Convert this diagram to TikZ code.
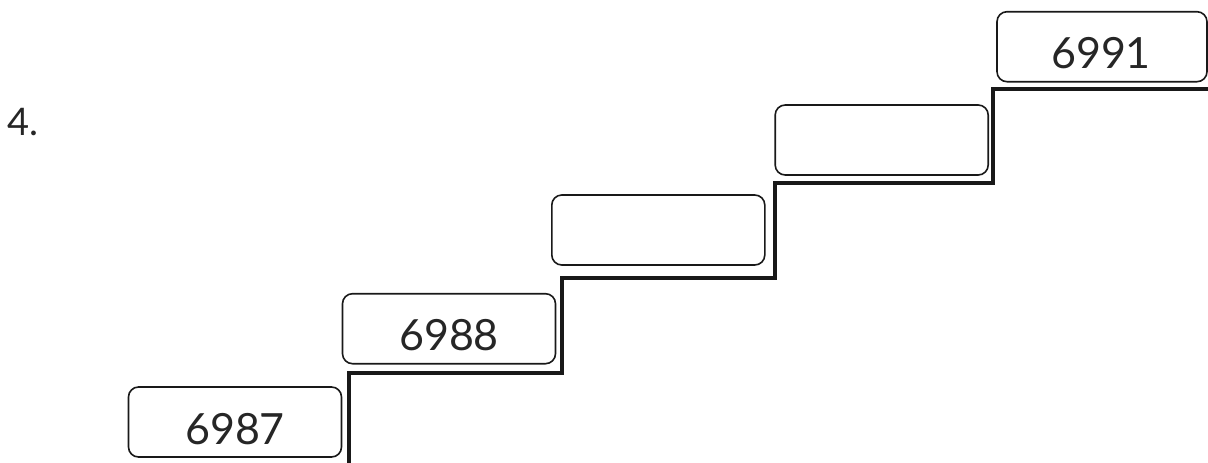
\documentclass[tikz,border=0pt]{standalone}
\usepackage{fontspec}
\setmainfont{Lato}
\begin{document}
\begin{tikzpicture}[x=1pt,y=-1pt,
  numbox/.style={draw=black!90,line width=1.6pt,rounded corners=10pt,minimum width=213pt,minimum height=70pt,inner sep=0pt},
  numtext/.style={font=\fontsize{43}{43}\selectfont,text=black!85,inner sep=0pt,anchor=base},
  stairline/.style={draw=black!90,line width=4pt,line join=miter}]
\useasboundingbox (0,0) rectangle (1208,463);
\node[numtext,font=\fontsize{38}{38}\selectfont,anchor=base west] (lbl) at (7,135) {4.};
\node[numbox] (b1) at (235,422) {};
\node[numbox] (b2) at (449,328.7) {};
\node[numbox] (b3) at (658.3,230) {};
\node[numbox] (b4) at (881.7,140) {};
\node[numbox,minimum width=210pt] (b5) at (1102,46.7) {};
\node[numtext] (t1) at (235,444) {6987};
\node[numtext] (t2) at (449,350) {6988};
\node[numtext] (t5) at (1101,68.3) {6991};
\coordinate (s0) at (349,463);
\coordinate (s1) at (349,373);
\coordinate (s2) at (562,373);
\coordinate (s3) at (562,278.3);
\coordinate (s4) at (775,278.3);
\coordinate (s5) at (775,183);
\coordinate (s6) at (993,183);
\coordinate (s7) at (993,89);
\coordinate (s8) at (1208,89);
\draw[stairline] (s0) -- (s1) -- (s2) -- (s3) -- (s4) -- (s5) -- (s6) -- (s7) -- (s8);
\end{tikzpicture}
\end{document}
